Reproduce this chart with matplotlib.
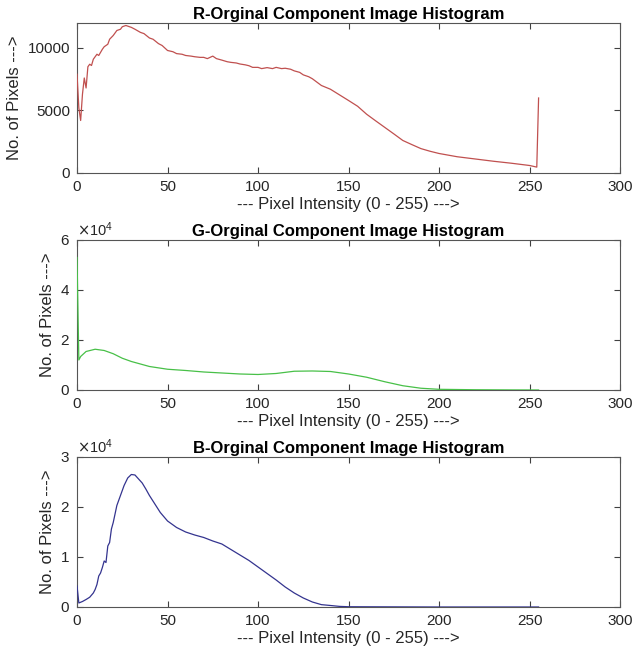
import matplotlib
matplotlib.use("Agg")
import matplotlib.pyplot as plt

plt.rcParams['font.family'] = ['Liberation Sans', 'DejaVu Sans']

# intensity levels and pixel counts for each channel
r_levels = [0, 1, 2, 3, 4, 5, 6, 7, 8, 9, 10, 11, 12, 14, 15, 17, 18, 20, 22, 24, 25,
            27, 28, 30, 32, 35, 37, 40, 42, 45, 47, 50, 53, 55, 58, 60, 63, 65, 68,
            70, 72, 75, 77, 80, 83, 85, 88, 90, 93, 95, 97, 100, 102, 105, 108, 110,
            113, 115, 118, 120, 123, 125, 128, 130, 135, 140, 145, 150, 155, 160,
            165, 170, 175, 180, 185, 190, 195, 200, 210, 220, 230, 240, 250, 254, 255]
r_counts = [7900, 5200, 4200, 6300, 7600, 6800, 8500, 8700, 8600, 9100, 9300, 9500,
            9400, 9900, 10100, 10300, 10700, 11000, 11400, 11500, 11700, 11800, 11750,
            11650, 11500, 11250, 11150, 10800, 10700, 10350, 10200, 9800, 9700, 9550,
            9500, 9400, 9350, 9300, 9250, 9250, 9150, 9350, 9150, 9030, 8900, 8850,
            8800, 8720, 8650, 8580, 8450, 8450, 8350, 8430, 8350, 8450, 8350, 8380,
            8300, 8170, 8050, 7850, 7700, 7540, 7000, 6700, 6250, 5800, 5340, 4700,
            4170, 3650, 3130, 2600, 2270, 1950, 1740, 1560, 1300, 1120, 940, 780, 600,
            470, 6000]

g_levels = [0, 1, 2, 5, 10, 15, 20, 25, 30, 40, 50, 60, 70, 80, 90, 100, 110, 120,
            130, 140, 150, 160, 170, 180, 190, 200, 220, 240, 255]
g_counts = [53000, 12000, 13400, 15400, 16300, 15800, 14500, 12700, 11400, 9400, 8300,
            7800, 7200, 6800, 6400, 6200, 6600, 7500, 7600, 7400, 6400, 5100, 3300,
            1700, 700, 270, 100, 30, 0]

b_levels = [0, 1, 3, 5, 7, 9, 10, 11, 12, 13, 14, 15, 16, 17, 18, 19, 20, 22, 24, 26,
            28, 30, 32, 34, 36, 38, 40, 43, 46, 50, 55, 60, 65, 70, 75, 80, 85, 90,
            95, 100, 105, 110, 115, 120, 125, 130, 135, 140, 145, 150, 200, 255]
b_counts = [4200, 800, 1100, 1500, 1950, 2800, 3500, 4500, 6200, 6800, 7900, 9200,
            8900, 12200, 12900, 15600, 16900, 20300, 22300, 24300, 25800, 26500, 26400,
            25600, 24800, 23600, 22300, 20600, 18900, 17200, 15900, 15000, 14400, 13900,
            13200, 12600, 11500, 10400, 9300, 8000, 6700, 5400, 4000, 2800, 1800, 1000,
            470, 300, 120, 50, 0, 0]

channels = [
    ("R", r_levels, r_counts, '#c0504f', 12000, [0, 5000, 10000]),
    ("G", g_levels, g_counts, '#48c048', 60000, [0, 20000, 40000, 60000]),
    ("B", b_levels, b_counts, '#34348f', 30000, [0, 10000, 20000, 30000]),
]

fig = plt.figure(figsize=(6.43, 6.55), dpi=100)
bottoms = [0.7359, 0.4046, 0.0733]

for (name, lv, cnt, col, ymax, yt), b in zip(channels, bottoms):
    ax = fig.add_axes([0.1198, b, 0.8445, 0.229])
    ax.plot(lv, cnt, color=col, lw=0.9, zorder=3)
    ax.set_xlim(0, 300)
    ax.set_ylim(0, ymax)
    ax.set_xticks([0, 50, 100, 150, 200, 250, 300])
    ax.set_yticks(yt)
    if ymax > 12000:
        ax.ticklabel_format(axis='y', style='sci', scilimits=(4, 4), useMathText=True)
        ax.yaxis.get_offset_text().set_fontsize(10.5)
        ax.yaxis.get_offset_text().set_color('#333333')
    ax.tick_params(direction='in', top=True, right=True, labelsize=11,
                   colors='#404040', labelcolor='#262626', length=4, width=0.8, pad=5)
    for s in ax.spines.values():
        s.set_color('#555555')
        s.set_linewidth(0.8)
    ax.set_title(f"{name}-Orginal Component Image Histogram", fontsize=12,
                 fontweight='bold', pad=3)
    ax.set_xlabel("--- Pixel Intensity (0 - 255) --->", fontsize=12,
                  color='#262626', labelpad=2)
    ax.set_ylabel("No. of Pixels --->", fontsize=12, color='#262626', labelpad=4)

fig.savefig("out.png", dpi=100)
